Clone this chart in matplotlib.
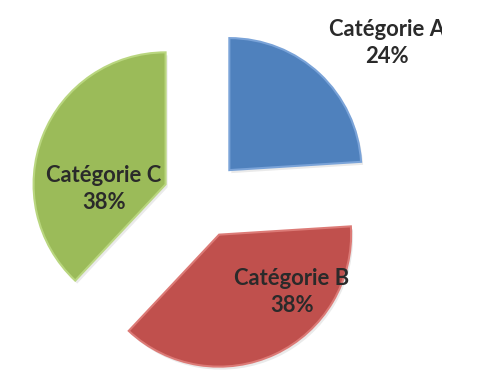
import matplotlib
matplotlib.use("Agg")
import matplotlib.pyplot as plt
from matplotlib.patches import Rectangle

# Share of each category
categories = ["Catégorie A", "Catégorie B", "Catégorie C"]
shares = [24, 38, 38]
colors = ["#4F81BD", "#C0504D", "#9BBB59"]

W, H = 484, 374
fig = plt.figure(figsize=(W / 100, H / 100), dpi=100)
ax = fig.add_axes([0, 0, 1, 1])

center = (202.3, 175.1)
radius = 132
explode = [39.5, 39.5, 39.5]

# soft drop shadow under the slices
ax.pie(shares, radius=radius, center=(center[0] + 2, center[1] - 3),
       startangle=90, counterclock=False, explode=explode,
       colors=["#dcdcdc"] * 3, frame=True,
       wedgeprops=dict(linewidth=0, alpha=0.6))

wedges, _ = ax.pie(shares, radius=radius, center=center, startangle=90,
                   counterclock=False, explode=explode, colors=colors,
                   frame=True, wedgeprops=dict(linewidth=0))
ax.set_xlim(0, W)
ax.set_ylim(0, H)
ax.set_aspect("equal")
ax.axis("off")

# light bevel along the rim of each slice
light = ["#7aa3d8", "#dc7a76", "#b9d67f"]
for w, lc in zip(wedges, light):
    w.set_edgecolor(lc)
    w.set_linewidth(1.5)

# data labels (name + percentage)
label_pos = [(387, 331), (292, 82), (104, 185)]
clip = Rectangle((0, 0), 442, H, transform=ax.transData)
for name, val, (x, y) in zip(categories, shares, label_pos):
    t = ax.text(x, y, f"{name}\n{val}%", ha="center", va="center",
                fontsize=15.8, fontweight="bold", family="Lato",
                color="#2a2a2a", linespacing=1.4)
    t.set_clip_path(clip)
    t.set_clip_on(True)

fig.savefig("out.png", dpi=100)
